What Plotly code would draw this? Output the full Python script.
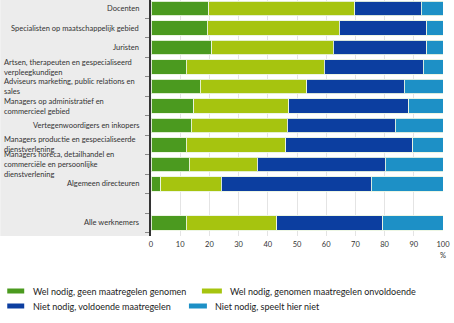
import plotly.graph_objects as go

categories = [
    "Docenten",
    "Specialisten op maatschappelijk gebied",
    "Juristen",
    "Artsen, therapeuten en gespecialiseerd<br>verpleegkundigen",
    "Adviseurs marketing, public relations en<br>sales",
    "Managers op administratief en<br>commercieel gebied",
    "Vertegenwoordigers en inkopers",
    "Managers productie en gespecialiseerde<br>dienstverlening",
    "Managers horeca, detailhandel en<br>commerciële en persoonlijke<br>dienstverlening",
    "Algemeen directeuren",
    "",
    "Alle werknemers",
]
wel_geen = [19.8, 19.2, 20.8, 12.0, 16.8, 14.7, 13.8, 12.0, 13.1, 3.4, None, 12.1]
wel_onvoldoende = [50.0, 45.2, 41.6, 47.3, 36.6, 32.5, 32.8, 34.2, 23.2, 20.6, None, 31.0]
niet_voldoende = [22.8, 30.1, 32.1, 33.9, 33.3, 41.0, 37.0, 43.5, 43.9, 51.4, None, 36.2]
niet_speelt = [7.4, 5.5, 5.5, 6.8, 13.3, 11.8, 16.4, 10.3, 19.8, 24.6, None, 20.7]

series_names = [
    "Wel nodig, geen maatregelen genomen",
    "Wel nodig, genomen maatregelen onvoldoende",
    "Niet nodig, voldoende maatregelen",
    "Niet nodig, speelt hier niet",
]
colors = ["#4b9a1f", "#a6c40f", "#0c3ea0", "#1d90c6"]
x_ticks = [0, 10, 20, 30, 40, 50, 60, 70, 80, 90, 100]

W, H = 454, 323
L, R, T, B = 151, 10.5, 0, 87
PW = W - L - R
PH = H - T - B

def px(x):
    return (x - L) / PW

def py(y):
    return (H - B - y) / PH

ypos = list(range(len(categories)))
fig = go.Figure()
for name, vals, col in zip(series_names, [wel_geen, wel_onvoldoende, niet_voldoende, niet_speelt], colors):
    fig.add_trace(go.Bar(
        y=ypos, x=vals, orientation="h", name=name,
        marker=dict(color=col, line=dict(color="rgba(235,245,225,0.9)", width=1)),
        showlegend=False,
    ))

font = "Lato, Open Sans, sans-serif"
# gray label panel
fig.add_shape(type="rect", xref="paper", yref="paper", x0=px(0), x1=0, y0=0, y1=1,
              fillcolor="#ececec", line=dict(width=0), layer="below")

annotations = []
for i, lab in enumerate(categories):
    if not lab:
        continue
    multi = "<br>" in lab
    annotations.append(dict(
        xref="paper", yref="y", x=px(2) if multi else px(141), y=ypos[i],
        xanchor="left" if multi else "right", yanchor="middle", align="left",
        text=lab, showarrow=False, font=dict(family=font, size=7.5, color="#333333"),
    ))
annotations.append(dict(xref="x", yref="paper", x=100, y=py(255), text="%", showarrow=False,
                        xanchor="center", yanchor="middle", font=dict(family=font, size=7.5, color="#333333")))

# custom legend
legend_items = [
    (0, 7, 24, 31, 291),
    (1, 202, 222, 228, 291),
    (2, 7, 24, 31, 306),
    (3, 189, 207, 213, 306),
]
for idx, sx0, sx1, tx, cy in legend_items:
    fig.add_shape(type="rect", xref="paper", yref="paper", x0=px(sx0), x1=px(sx1),
                  y0=py(cy + 2.5), y1=py(cy - 2.5), fillcolor=colors[idx], line=dict(width=0))
    annotations.append(dict(xref="paper", yref="paper", x=px(tx), y=py(cy), text=series_names[idx],
                            showarrow=False, xanchor="left", yanchor="middle",
                            font=dict(family=font, size=9, color="#222222")))

fig.update_layout(
    width=W, height=H, margin=dict(l=L, r=R, t=T, b=B),
    barmode="stack", bargap=0.27,
    paper_bgcolor="white", plot_bgcolor="white",
    annotations=annotations,
    xaxis=dict(range=[0, 100], tickvals=x_ticks, showgrid=True, gridcolor="#e4e4e4", gridwidth=1,
               zeroline=False, showline=False, ticks="", ticklabelstandoff=2,
               tickfont=dict(family=font, size=7.5, color="#333333")),
    yaxis=dict(range=[11.67, -0.44], tickvals=[i + 0.5 for i in range(-1, len(categories))],
               showticklabels=False, ticks="outside", ticklen=4, tickcolor="#888888",
               showgrid=False, zeroline=False, showline=True, linecolor="#333333", linewidth=2),
)

fig.write_html("out.html")
